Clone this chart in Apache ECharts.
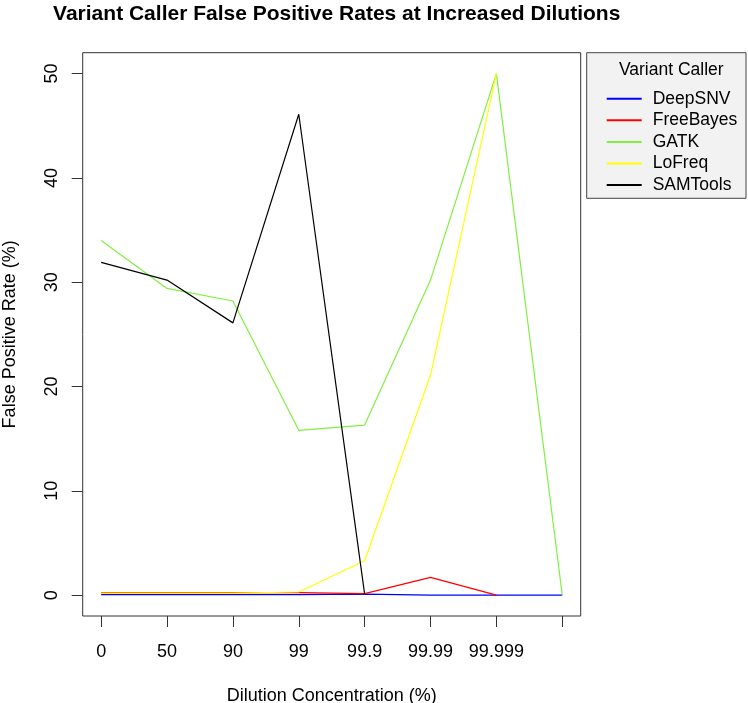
<!DOCTYPE html>
<html>
<head>
<meta charset="utf-8">
<script src="https://cdn.jsdelivr.net/npm/echarts@6/dist/echarts.min.js"></script>
<style>html,body{margin:0;padding:0;background:#fff;}#c{width:748px;height:703px;}</style>
</head>
<body>
<div id="c"></div>
<script>
const categories = ['0', '50', '90', '99', '99.9', '99.99', '99.999', ''];
const seriesNames = ['DeepSNV', 'FreeBayes', 'GATK', 'LoFreq', 'SAMTools'];
const deepSNV   = [0.05, 0.05, 0.05, 0.05, 0.1, 0, 0, 0];
const freeBayes = [0.25, 0.25, 0.25, 0.25, 0.15, 1.7, 0];
const gatk      = [34.0, 29.4, 28.2, 15.8, 16.3, 30.2, 50, 0];
const loFreq    = [0.2, 0.2, 0.2, 0.3, 3.3, 21.1, 50];
const samTools  = [31.9, 30.2, 26.1, 46.1, 0.1];
const yTicks = [0, 10, 20, 30, 40, 50];
const xTicks = [0, 1, 2, 3, 4, 5, 6, 7];
const xLabelTicks = [0, 1, 2, 3, 4, 5, 6];
const colors = ['#0000ff', '#ff0000', '#80f040', '#ffff00', '#000000'];
const allValues = [deepSNV, freeBayes, gatk, loFreq, samTools];

const FONT = 'Liberation Sans, Arial, Helvetica, sans-serif';
const chart = echarts.init(document.getElementById('c'), null, {renderer: 'canvas'});

const series = seriesNames.map((name, k) => ({
  name: name,
  type: 'line',
  data: allValues[k].map((v, i) => [i, v]),
  symbol: 'none',
  showSymbol: false,
  lineStyle: {color: colors[k], width: 1.2},
  itemStyle: {color: colors[k]},
  emphasis: {disabled: true},
  animation: false
}));

chart.setOption({
  animation: false,
  backgroundColor: '#fff',
  title: [
    {
      text: 'Variant Caller False Positive Rates at Increased Dilutions',
      left: 331.7, top: -1, textAlign: 'center',
      textStyle: {fontFamily: FONT, fontSize: 21, fontWeight: 'bold', color: '#000'}
    },
    {
      text: 'Variant Caller',
      left: 666.3, top: 56, textAlign: 'center',
      textStyle: {fontFamily: FONT, fontSize: 17.5, fontWeight: 'normal', color: '#000'}
    }
  ],
  graphic: [{
    type: 'rect', z: -1,
    shape: {x: 586.7, y: 52.7, width: 159.3, height: 145.6},
    style: {fill: '#f2f2f2', stroke: '#444', lineWidth: 1}
  }],
  legend: {
    orient: 'vertical',
    left: 601.7, top: 84.7,
    icon: 'rect', itemWidth: 35, itemHeight: 2, itemGap: 3.6,
    selectedMode: false,
    textStyle: {fontFamily: FONT, fontSize: 17.5, color: '#000', padding: [0, 0, 0, 6], lineHeight: 18},
    data: seriesNames
  },
  grid: {
    left: 82.7, right: 167.3, top: 52.7, bottom: 87,
    outerBoundsMode: 'none', containLabel: false,
    show: true, borderColor: '#333', borderWidth: 1, backgroundColor: 'transparent'
  },
  xAxis: {
    type: 'value', min: -0.28, max: 7.28,
    name: 'Dilution Concentration (%)', nameLocation: 'middle', nameGap: 71,
    nameTextStyle: {fontFamily: FONT, fontSize: 18, color: '#000'},
    axisLine: {show: false, onZero: false},
    axisTick: {show: true, inside: false, length: 11, customValues: xTicks, lineStyle: {color: '#333'}},
    axisLabel: {show: true, customValues: xLabelTicks, margin: 27, fontFamily: FONT, fontSize: 18, color: '#000',
      formatter: v => categories[Math.round(v)]},
    splitLine: {show: false}
  },
  yAxis: {
    type: 'value', min: -2, max: 52,
    name: 'False Positive Rate (%)', nameLocation: 'middle', nameGap: 64,
    nameTextStyle: {fontFamily: FONT, fontSize: 18, color: '#000'},
    axisLine: {show: false, onZero: false},
    axisTick: {show: true, inside: false, length: 11, customValues: yTicks, lineStyle: {color: '#333'}},
    axisLabel: {show: true, customValues: yTicks, rotate: 90, margin: 22, fontFamily: FONT, fontSize: 18, color: '#000'},
    splitLine: {show: false}
  },
  series: series
});
</script>
</body>
</html>
